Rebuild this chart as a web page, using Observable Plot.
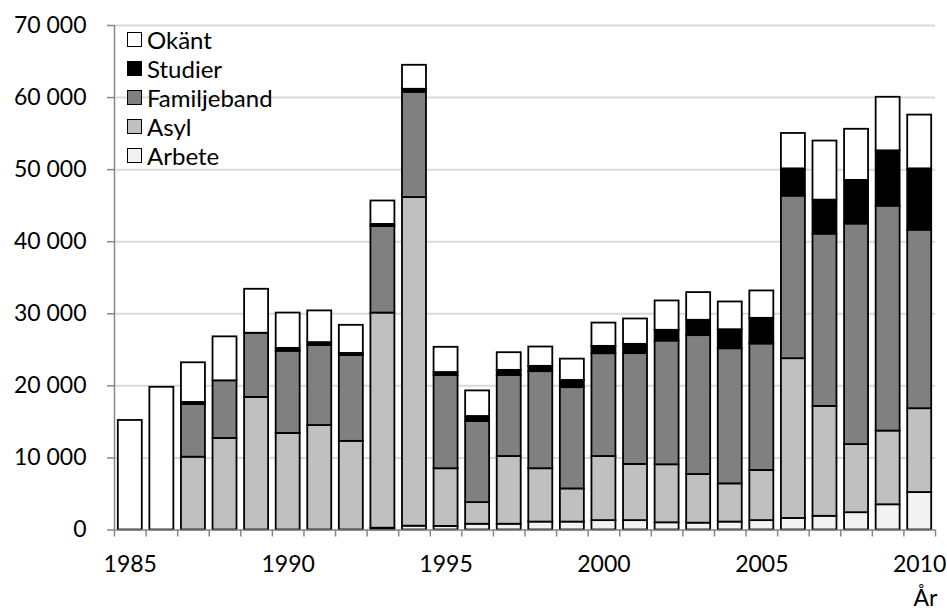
<!DOCTYPE html>
<html>
<head>
<meta charset="utf-8">
<script src="https://cdn.jsdelivr.net/npm/d3@7"></script>
<script src="https://cdn.jsdelivr.net/npm/@observablehq/plot@0.6"></script>
<style>
  html, body { margin: 0; padding: 0; background: #fff; }
  #wrap { position: relative; width: 947px; height: 613px; font-family: Lato, sans-serif; }
  #legend { position: absolute; left: 127px; top: 25px; font-size: 24px; color: #000; }
  .item { display: flex; align-items: center; height: 29px; }
  .sw { width: 13px; height: 13px; border: 1.7px solid #000; margin-right: 5px; box-sizing: content-box; }
</style>
</head>
<body>
<div id="wrap"><div id="legend"></div></div>
<script>
// Categories (years)
const years = [1985, 1986, 1987, 1988, 1989, 1990, 1991, 1992, 1993, 1994, 1995, 1996, 1997,
               1998, 1999, 2000, 2001, 2002, 2003, 2004, 2005, 2006, 2007, 2008, 2009, 2010];

// Series values (stack order bottom -> top)
const arbete      = [0, 0, 0, 0, 0, 0, 0, 0, 250, 530, 500, 800, 800, 1100, 1100, 1300, 1300, 1000, 950, 1100, 1300, 1600, 1900, 2400, 3500, 5200];
const asyl        = [0, 0, 10100, 12700, 18400, 13400, 14500, 12300, 29850, 45600, 8000, 3000, 9400, 7400, 4600, 8900, 7800, 8050, 6750, 5300, 6960, 22170, 15250, 9450, 10230, 11630];
const familjeband = [0, 0, 7300, 8000, 8900, 11400, 11100, 11900, 12000, 14600, 12950, 11250, 11250, 13470, 14050, 14260, 15370, 17170, 19270, 18750, 17550, 22550, 23900, 30600, 31200, 24770];
const studier     = [0, 0, 300, 0, 0, 400, 400, 300, 300, 420, 400, 700, 700, 740, 1000, 1020, 1290, 1490, 2130, 2640, 3560, 3790, 4720, 6060, 7680, 8510];
const okant       = [15200, 19800, 5500, 6100, 6100, 4900, 4400, 3900, 3250, 3330, 3500, 3550, 2450, 2680, 2960, 3230, 3520, 4070, 3840, 3850, 3800, 4910, 8200, 7090, 7430, 7460];

// Series names and colours
const types  = ["Arbete", "Asyl", "Familjeband", "Studier", "Okänt"];
const colors = ["#f2f2f2", "#c0c0c0", "#808080", "#000000", "#ffffff"];
const legendOrder = ["Okänt", "Studier", "Familjeband", "Asyl", "Arbete"];

// Tick labels
const yTicks = [0, 10000, 20000, 30000, 40000, 50000, 60000, 70000];
const xLabels = [1985, 1990, 1995, 2000, 2005, 2010];
const xTitle = "År";

// Build table for Plot
const seriesByType = {Arbete: arbete, Asyl: asyl, Familjeband: familjeband, Studier: studier, "Okänt": okant};
const table = years.flatMap((year, i) =>
  types.map(type => ({year, type, value: seriesByType[type][i]}))
).filter(d => d.value > 0);
const boundaries = [years[0] - 0.5, ...years.map(y => y + 0.5)];

const fmt = d3.formatLocale({decimal: ",", thousands: "\u00a0", grouping: [3], currency: ["", ""]}).format(",d");

const chart = Plot.plot({
  width: 947,
  height: 613,
  marginLeft: 114,
  marginRight: 12,
  marginTop: 25,
  marginBottom: 83.5,
  style: {fontFamily: "Lato, sans-serif", fontSize: "23px", color: "#000", background: "#fff"},
  x: {domain: [years[0] - 0.5, years[years.length - 1] + 0.5]},
  y: {domain: [0, 70000]},
  color: {domain: types, range: colors},
  marks: [
    Plot.gridY(yTicks.slice(1), {stroke: "#d9d9d9", strokeOpacity: 1, strokeWidth: 2}),
    Plot.rect(table, Plot.stackY({
      x1: d => d.year - 0.5,
      x2: d => d.year + 0.5,
      y: "value",
      z: "type",
      fill: "type",
      stroke: "#000",
      strokeWidth: 1.8,
      insetLeft: 3.8,
      insetRight: 3.8
    })),
    Plot.ruleX([years[0] - 0.5], {y1: 0, y2: 70000, stroke: "#868686", strokeWidth: 1.5}),
    Plot.ruleY([0], {stroke: "#868686", strokeWidth: 1.5}),
    Plot.axisY(yTicks, {tickSize: 7, tickPadding: 21, tickFormat: fmt, stroke: "#868686", strokeWidth: 1.5, fill: "#000", label: null}),
    Plot.axisX(boundaries, {tickSize: 7, tickFormat: () => "", stroke: "#868686", strokeWidth: 1.5, label: null}),
    Plot.axisX(xLabels, {tickSize: 0, tickPadding: 26, tickFormat: d => String(d), fill: "#000", label: null}),
    Plot.text([xTitle], {frameAnchor: "bottom-right", dy: 76, dx: 2, textAnchor: "end", fill: "#000", fontSize: 23})
  ]
});

document.getElementById("wrap").prepend(chart);

const legend = document.getElementById("legend");
for (const t of legendOrder) {
  const item = document.createElement("div");
  item.className = "item";
  const sw = document.createElement("span");
  sw.className = "sw";
  sw.style.background = colors[types.indexOf(t)];
  const label = document.createElement("span");
  label.textContent = t;
  item.append(sw, label);
  legend.append(item);
}
</script>
</body>
</html>
